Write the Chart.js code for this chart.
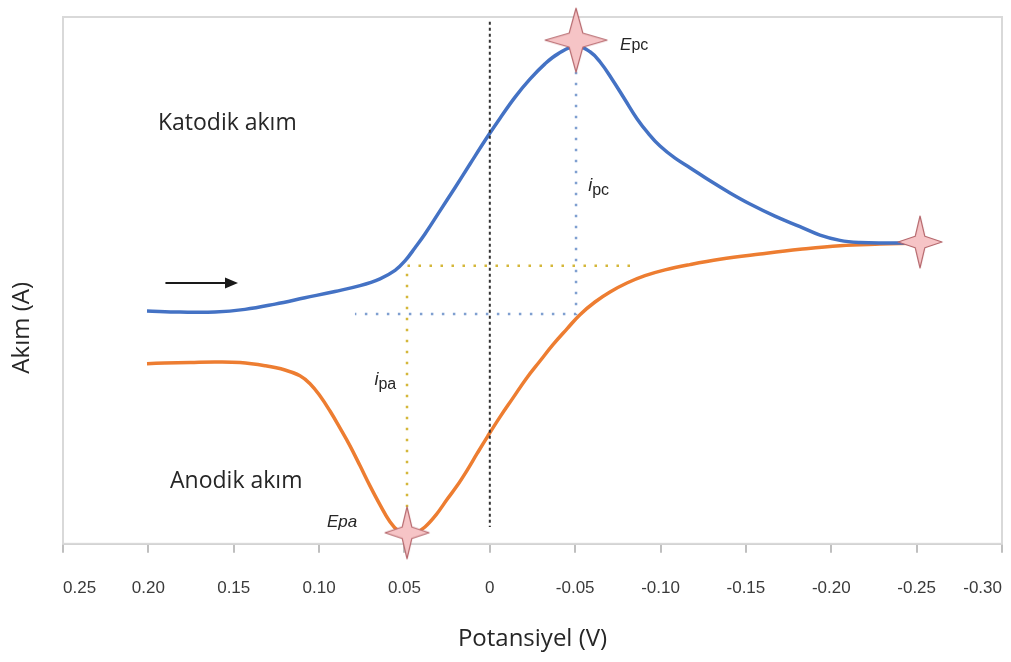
<!DOCTYPE html>
<html>
<head>
<meta charset="utf-8">
<script src="https://cdn.jsdelivr.net/npm/chart.js@4.4.1/dist/chart.umd.min.js"></script>
<style>
  html, body { margin: 0; padding: 0; background: #fff; }
</style>
</head>
<body>
<canvas id="cv" width="1011" height="662"></canvas>
<script>
// ==========================
// VERİ (potansiyel V, akım keyfi birim)
// ==========================
// katodik tarama: 0.20 V -> -0.25 V
const katodikE = [0.2008, 0.1815, 0.1610, 0.1434, 0.1258, 0.1083, 0.0907, 0.0760, 0.0643, 0.0555, 0.0497, 0.0438, 0.0380, 0.0292, 0.0204, 0.0116, 0.0011, -0.0060, -0.0148, -0.0235, -0.0323, -0.0399, -0.0505, -0.0587, -0.0645, -0.0716, -0.0792, -0.0862, -0.0926, -0.0997, -0.1085, -0.1172, -0.1290, -0.1407, -0.1524, -0.1670, -0.1817, -0.1934, -0.2051, -0.2168, -0.2315, -0.2520];
const katodikI = [44.2, 44.0, 44.0, 44.5, 45.5, 46.7, 47.9, 49.0, 50.3, 51.9, 53.7, 56.2, 58.8, 63.2, 67.6, 72.1, 77.4, 80.8, 84.8, 88.2, 91.1, 93.0, 94.5, 93.4, 91.5, 88.2, 84.3, 80.7, 78.0, 75.5, 73.2, 71.4, 68.9, 66.6, 64.5, 62.2, 60.2, 58.6, 57.6, 57.2, 57.1, 57.1];

// anodik tarama: -0.25 V -> 0.20 V
const anodikE = [-0.2520, -0.2285, -0.2051, -0.1817, -0.1583, -0.1348, -0.1172, -0.1026, -0.0909, -0.0803, -0.0704, -0.0616, -0.0528, -0.0452, -0.0370, -0.0294, -0.0212, -0.0136, -0.0060, 0.0011, 0.0075, 0.0134, 0.0192, 0.0251, 0.0315, 0.0380, 0.0438, 0.0485, 0.0532, 0.0585, 0.0643, 0.0702, 0.0760, 0.0819, 0.0878, 0.0936, 0.0995, 0.1053, 0.1112, 0.1200, 0.1317, 0.1463, 0.1610, 0.1756, 0.1903, 0.2008];
const anodikI = [57.1, 56.9, 56.6, 55.9, 55.0, 54.0, 53.0, 52.0, 50.9, 49.5, 47.8, 45.9, 43.5, 40.8, 37.8, 34.7, 31.3, 27.7, 24.1, 20.5, 17.1, 13.9, 11.0, 8.4, 5.5, 3.2, 2.0, 1.7, 2.3, 4.2, 7.4, 11.0, 14.8, 18.6, 22.0, 25.2, 28.1, 30.4, 31.9, 33.0, 33.8, 34.4, 34.5, 34.4, 34.3, 34.2];

// yıldızlar: Epc, Epa, dönüş noktası
const yildizE = [-0.0505, 0.0485, -0.252];
const yildizI = [95.6, 2.1, 57.3];

// yardımcı çizgiler
const sifirE = [0, 0];
const sifirI = [99.1, 3.2];
const ipcE = [-0.0505, -0.0505, 0.079];
const ipcI = [89.6, 43.6, 43.6];
const ipaE = [-0.0821, 0.0485, 0.0485];
const ipaI = [52.8, 52.8, 7.0];

// ok (tarama yönü)
const okE = [0.190, 0.1475];
const okI = [49.5, 49.5];

// eksen etiketleri
const xTickValues = [-0.30, -0.25, -0.20, -0.15, -0.10, -0.05, 0, 0.05, 0.10, 0.15, 0.20, 0.25];
const xTickLabels = ["-0.30", "-0.25", "-0.20", "-0.15", "-0.10", "-0.05", "0", "0.05", "0.10", "0.15", "0.20", "0.25"];

const pts = (xs, ys) => xs.map((x, i) => ({ x: x, y: ys[i] }));

// 4 köşeli yıldız
function yildiz(rx, ry) {
  const c = document.createElement("canvas");
  c.width = Math.ceil(rx * 2 + 4);
  c.height = Math.ceil(ry * 2 + 4);
  const g = c.getContext("2d");
  const mx = c.width / 2, my = c.height / 2;
  const ix = rx * 0.22, iy = ry * 0.22;
  g.beginPath();
  g.moveTo(mx, my - ry);
  g.lineTo(mx + ix, my - iy);
  g.lineTo(mx + rx, my);
  g.lineTo(mx + ix, my + iy);
  g.lineTo(mx, my + ry);
  g.lineTo(mx - ix, my + iy);
  g.lineTo(mx - rx, my);
  g.lineTo(mx - ix, my - iy);
  g.closePath();
  g.fillStyle = "#f6c4c6";
  g.fill();
  g.strokeStyle = "#b5676c";
  g.lineWidth = 1.2;
  g.lineJoin = "round";
  g.stroke();
  return c;
}
const yildizlar = [yildiz(31, 32), yildiz(22, 26), yildiz(22, 26)];

// ==========================
// ÇERÇEVE, OK VE YAZILAR
// ==========================
const cerceve = {
  id: "cerceve",
  beforeDatasetsDraw(chart) {
    const a = chart.chartArea, ctx = chart.ctx;
    ctx.save();
    ctx.strokeStyle = "#d9d9d9";
    ctx.lineWidth = 2;
    ctx.strokeRect(a.left, a.top, a.right - a.left, a.bottom - a.top);
    ctx.restore();
  }
};

const yazilar = {
  id: "yazilar",
  afterDatasetsDraw(chart) {
    const ctx = chart.ctx;
    const xs = chart.scales.x, ys = chart.scales.y;
    const X = v => xs.getPixelForValue(v);
    const Y = v => ys.getPixelForValue(v);
    ctx.save();

    // y ekseni başlığı (grafiğin ortasından biraz aşağıda)
    ctx.save();
    ctx.translate(22, Y(41));
    ctx.rotate(-Math.PI / 2);
    ctx.font = '24px "Open Sans"';
    ctx.fillStyle = "#262626";
    ctx.textAlign = "center";
    ctx.textBaseline = "middle";
    ctx.fillText("Akım (A)", 0, 0);
    ctx.restore();

    // ok
    const x1 = X(okE[0]), x2 = X(okE[1]), y0 = Y(okI[0]);
    ctx.strokeStyle = "#1a1a1a";
    ctx.fillStyle = "#1a1a1a";
    ctx.lineWidth = 2;
    ctx.beginPath();
    ctx.moveTo(x1, y0);
    ctx.lineTo(x2 - 10, y0);
    ctx.stroke();
    ctx.beginPath();
    ctx.moveTo(x2, y0);
    ctx.lineTo(x2 - 13, y0 - 5.5);
    ctx.lineTo(x2 - 13, y0 + 5.5);
    ctx.closePath();
    ctx.fill();

    ctx.fillStyle = "#262626";
    ctx.textBaseline = "middle";
    ctx.textAlign = "left";
    ctx.font = '23px "Open Sans"';
    ctx.fillText("Katodik akım", X(0.1944), Y(79.7));
    ctx.fillText("Anodik akım", X(0.1873), Y(11.8));

    ctx.textBaseline = "alphabetic";
    // Epc
    ctx.font = 'italic 17px "Liberation Sans"';
    ctx.fillText("E", X(-0.0763), Y(93.7));
    let w = ctx.measureText("E").width;
    ctx.font = '16px "Liberation Sans"';
    ctx.fillText("pc", X(-0.0763) + w, Y(93.7));

    // Epa
    ctx.font = 'italic 17px "Liberation Sans"';
    ctx.fillText("Epa", X(0.0954), Y(3.2));

    // ipc
    ctx.font = 'italic 18px "Liberation Sans"';
    ctx.fillText("i", X(-0.0576), Y(67.0));
    w = ctx.measureText("i").width;
    ctx.font = '16px "Liberation Sans"';
    ctx.fillText("pc", X(-0.0576) + w, Y(66.3));

    // ipa
    ctx.font = 'italic 18px "Liberation Sans"';
    ctx.fillText("i", X(0.0676), Y(30.2));
    w = ctx.measureText("i").width;
    ctx.font = '16px "Liberation Sans"';
    ctx.fillText("pa", X(0.0676) + w, Y(29.4));

    ctx.restore();
  }
};

// ==========================
// GRAFİK
// ==========================
new Chart(document.getElementById("cv"), {
  type: "line",
  data: {
    datasets: [
      {
        data: pts(yildizE, yildizI),
        showLine: false,
        pointStyle: yildizlar,
        pointRadius: 5,
        clip: false,
        order: 0
      },
      {
        data: pts(sifirE, sifirI),
        borderColor: "#333333",
        borderWidth: 2,
        borderDash: [3, 3],
        pointRadius: 0,
        order: 1
      },
      {
        data: pts(katodikE, katodikI),
        borderColor: "#4472c4",
        borderWidth: 3.5,
        tension: 0.4,
        pointRadius: 0,
        order: 2
      },
      {
        data: pts(anodikE, anodikI),
        borderColor: "#ed7d31",
        borderWidth: 3.5,
        tension: 0.4,
        pointRadius: 0,
        order: 2
      },
      {
        data: pts(ipcE, ipcI),
        borderColor: "#7f9fd0",
        borderWidth: 2.5,
        borderDash: [2.5, 8.5],
        pointRadius: 0,
        order: 3
      },
      {
        data: pts(ipaE, ipaI),
        borderColor: "#d4b73a",
        borderWidth: 2.5,
        borderDash: [2.5, 8.5],
        pointRadius: 0,
        order: 3
      }
    ]
  },
  options: {
    responsive: false,
    animation: false,
    events: [],
    layout: { padding: { top: 17, right: 9, left: 0, bottom: 0 } },
    plugins: {
      legend: { display: false },
      tooltip: { enabled: false }
    },
    scales: {
      x: {
        type: "linear",
        reverse: true,
        min: -0.30,
        max: 0.25,
        afterBuildTicks: (scale) => {
          scale.ticks = xTickValues.map(v => ({ value: v }));
        },
        ticks: {
          callback: (v, i) => xTickLabels[i],
          align: "inner",
          padding: 25,
          maxRotation: 0,
          autoSkip: false,
          color: "#3a3a3a",
          font: { family: '"Liberation Sans"', size: 17 }
        },
        grid: {
          display: true,
          drawOnChartArea: false,
          drawTicks: true,
          tickLength: 9,
          color: "#bfbfbf",
          lineWidth: 2
        },
        border: { display: true, color: "#bfbfbf", width: 2 },
        title: {
          display: true,
          text: "Potansiyel (V)",
          color: "#262626",
          font: { family: '"Open Sans"', size: 24 },
          padding: { top: 2, bottom: 8 }
        }
      },
      y: {
        min: 0,
        max: 100,
        afterFit: (scale) => { scale.width = 63; },
        ticks: { display: false },
        grid: { display: false, drawTicks: false },
        border: { display: false },
        title: { display: false }
      }
    }
  },
  plugins: [cerceve, yazilar]
});
</script>
</body>
</html>
